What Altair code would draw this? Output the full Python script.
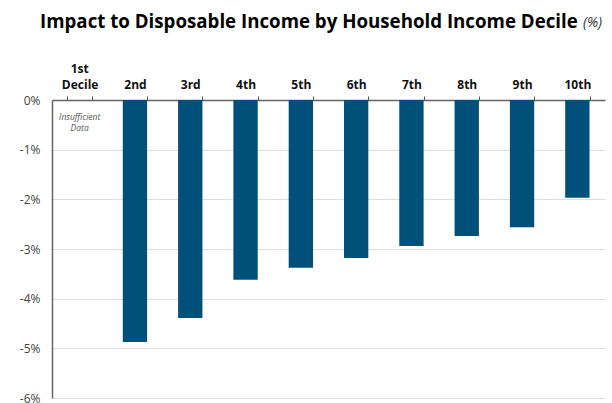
import altair as alt
import pandas as pd

deciles = ["1st", "2nd", "3rd", "4th", "5th", "6th", "7th", "8th", "9th", "10th"]
bar_deciles = ["2nd", "3rd", "4th", "5th", "6th", "7th", "8th", "9th", "10th"]
impact = [-4.87, -4.39, -3.62, -3.38, -3.18, -2.94, -2.74, -2.56, -1.97]
y_ticks = [0, -1, -2, -3, -4, -5, -6]
title_text = "Impact to Disposable Income by Household Income Decile"
title_unit = "(%)"
note_lines = ["Insufficient", "Data"]
first_label_top = "1st"
first_label_bottom = "Decile"

df = pd.DataFrame({"decile": bar_deciles, "impact": impact})
FONT = "Open Sans"

x_enc = alt.X(
    "decile:N",
    scale=alt.Scale(domain=deciles, paddingInner=0.56, paddingOuter=0.28),
    axis=alt.Axis(
        orient="top", title=None, labelAngle=0, labelFont=FONT, labelFontSize=12,
        labelFontWeight="bold", labelColor="#111111", labelBaseline="bottom",
        labelPadding=5, tickSize=4, tickColor="#555555", tickBand="extent",
        domainColor="#666666", domainWidth=1.5,
        labelExpr=f"datum.value == '1st' ? '{first_label_bottom}' : datum.value",
    ),
)
y_enc = alt.Y(
    "impact:Q",
    scale=alt.Scale(domain=[-6, 0], nice=False),
    axis=alt.Axis(
        values=y_ticks, title=None, labelFont=FONT, labelFontSize=12,
        labelColor="#444444", labelExpr="datum.value + '%'", ticks=False,
        labelPadding=12, domainColor="#666666", domainWidth=1.5,
        grid=True, gridColor="#dddddd", gridWidth=1,
    ),
)

bars = alt.Chart(df).mark_bar(color="#01507A").encode(x=x_enc, y=y_enc)

first_top = alt.Chart(pd.DataFrame({"decile": ["1st"], "t": [first_label_top]})).mark_text(
    font=FONT, fontSize=12, fontWeight="bold", color="#111111", baseline="bottom",
).encode(x=alt.X("decile:N"), y=alt.value(-24), text="t")

note = alt.Chart(pd.DataFrame({"decile": ["1st"], "t": [note_lines]})).mark_text(
    font=FONT, fontSize=8.5, fontStyle="italic", color="#555555", baseline="middle",
    lineHeight=11,
).encode(x=alt.X("decile:N"), y=alt.value(17), text="t")

title = alt.Chart(pd.DataFrame({"t": [title_text]})).mark_text(
    font=FONT, fontSize=18.7, fontWeight="bold", color="#000000", align="left",
    baseline="middle",
).encode(x=alt.value(-12), y=alt.value(-78), text="t")

unit = alt.Chart(pd.DataFrame({"t": [title_unit]})).mark_text(
    font=FONT, fontSize=14, fontStyle="italic", color="#333333", align="left",
    baseline="middle",
).encode(x=alt.value(531), y=alt.value(-77), text="t")

chart = alt.layer(bars, first_top, note, title, unit).properties(
    width=553, height=298,
    autosize=alt.AutoSizeParams(type="none"),
    padding={"left": 52, "top": 100, "right": 7, "bottom": 5},
).configure_view(stroke=None)

chart.save("out.html", embed_options={"renderer": "svg", "actions": False})
